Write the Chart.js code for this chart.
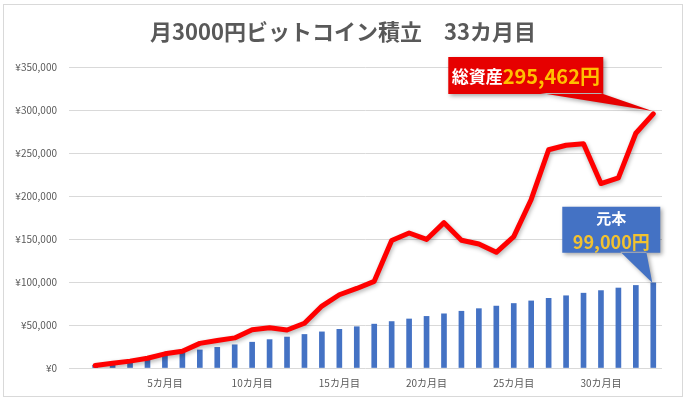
<!DOCTYPE html>
<html>
<head>
<meta charset="utf-8">
<script src="https://cdn.jsdelivr.net/npm/chart.js"></script>
<style>
    body { margin: 0; background: #fff; }
    #chartBox { width: 686px; height: 399px; }
</style>
</head>
<body>
<div id="chartBox"><canvas id="myChart"></canvas></div>
<script>
const CHART_TITLE = '月3000円ビットコイン積立　33カ月目';

// month 0 is an empty slot, like in the original sheet
const MONTH_LABELS = [
    '', '1カ月目', '2カ月目', '3カ月目', '4カ月目', '5カ月目', '6カ月目', '7カ月目', '8カ月目',
    '9カ月目', '10カ月目', '11カ月目', '12カ月目', '13カ月目', '14カ月目', '15カ月目', '16カ月目',
    '17カ月目', '18カ月目', '19カ月目', '20カ月目', '21カ月目', '22カ月目', '23カ月目', '24カ月目',
    '25カ月目', '26カ月目', '27カ月目', '28カ月目', '29カ月目', '30カ月目', '31カ月目', '32カ月目',
    '33カ月目'
];

const PRINCIPAL = [
    null, 3000, 6000, 9000, 12000, 15000, 18000, 21000, 24000, 27000, 30000, 33000,
    36000, 39000, 42000, 45000, 48000, 51000, 54000, 57000, 60000, 63000, 66000,
    69000, 72000, 75000, 78000, 81000, 84000, 87000, 90000, 93000, 96000, 99000
];

const TOTAL_ASSETS = [
    null, 3000, 5500, 8000, 11300, 16500, 19500, 28600, 32000, 35000, 44500, 46700,
    44200, 52000, 72000, 85200, 92500, 100800, 148200, 157000, 149500, 169000, 148600,
    144200, 134500, 152800, 196000, 253800, 259000, 260800, 214500, 221000, 273000, 295462
];

const Y_MAX = 350000;
const Y_STEP = 50000;
const LABEL_EVERY = 5;

const TOTAL_CAPTION = '総資産';
const TOTAL_VALUE_TEXT = '295,462円';
const PRINCIPAL_CAPTION = '元本';
const PRINCIPAL_VALUE_TEXT = '99,000円';

const FONT_JP = '"Noto Sans CJK JP", "Noto Sans", sans-serif';
const GRID_COLOR = '#d9d9d9';
const TEXT_COLOR = '#595959';

function drawCallout(ctx, box, baseA, baseB, tip, fill) {
    ctx.save();
    ctx.shadowColor = 'rgba(0, 0, 0, 0.35)';
    ctx.shadowBlur = 4;
    ctx.shadowOffsetX = 2;
    ctx.shadowOffsetY = 2;
    ctx.fillStyle = fill;
    ctx.beginPath();
    ctx.rect(box.x, box.y, box.w, box.h);
    ctx.moveTo(baseA, box.y + box.h - 1);
    ctx.lineTo(tip.x, tip.y);
    ctx.lineTo(baseB, box.y + box.h - 1);
    ctx.closePath();
    ctx.fill();
    ctx.restore();
}

// title, outer frame and the two callouts
const decorations = {
    id: 'decorations',
    beforeDraw(chart) {
        let ctx = chart.ctx;
        ctx.save();
        ctx.fillStyle = '#fff';
        ctx.fillRect(0, 0, chart.width, chart.height);
        ctx.strokeStyle = GRID_COLOR;
        ctx.lineWidth = 1;
        ctx.strokeRect(3.5, 4.5, chart.width - 7, chart.height - 7);
        ctx.restore();
    },
    beforeDatasetDraw(chart, args) {
        if (args.meta.type === 'line') {
            chart.ctx.save();
            chart.ctx.shadowColor = 'rgba(0, 0, 0, 0.3)';
            chart.ctx.shadowBlur = 4;
            chart.ctx.shadowOffsetX = 1;
            chart.ctx.shadowOffsetY = 2;
        }
    },
    afterDatasetDraw(chart, args) {
        if (args.meta.type === 'line') {
            chart.ctx.restore();
        }
    },
    afterDraw(chart) {
        let ctx = chart.ctx;
        let last = MONTH_LABELS.length - 1;

        ctx.save();
        ctx.fillStyle = TEXT_COLOR;
        ctx.font = 'bold 22px ' + FONT_JP;
        ctx.textAlign = 'center';
        ctx.textBaseline = 'middle';
        ctx.fillText(CHART_TITLE, chart.width / 2, 32);
        ctx.restore();

        // red callout -> end of the total line
        let p = chart.getDatasetMeta(0).data[last];
        let redBox = { x: p.x - 205, y: p.y - 57, w: 155, h: 37 };
        drawCallout(ctx, redBox, p.x - 113, p.x - 53, { x: p.x - 1, y: p.y - 3 }, '#e60000');

        ctx.save();
        ctx.textBaseline = 'middle';
        ctx.textAlign = 'left';
        ctx.font = 'bold 17px ' + FONT_JP;
        let capW = ctx.measureText(TOTAL_CAPTION).width;
        ctx.font = 'bold 20px ' + FONT_JP;
        let valW = ctx.measureText(TOTAL_VALUE_TEXT).width;
        let tx = redBox.x + (redBox.w - capW - valW) / 2;
        let ty = redBox.y + 20;
        ctx.fillStyle = '#ffffff';
        ctx.font = 'bold 17px ' + FONT_JP;
        ctx.fillText(TOTAL_CAPTION, tx, ty);
        ctx.fillStyle = '#ffc000';
        ctx.font = 'bold 20px ' + FONT_JP;
        ctx.fillText(TOTAL_VALUE_TEXT, tx + capW, ty);
        ctx.restore();

        // blue callout -> top of the last bar
        let b = chart.getDatasetMeta(1).data[last];
        let blueBox = { x: b.x - 91, y: b.y - 76, w: 98, h: 46 };
        drawCallout(ctx, blueBox, b.x - 33, b.x - 7, { x: b.x - 1, y: b.y }, '#4472c4');

        ctx.save();
        ctx.textAlign = 'center';
        ctx.textBaseline = 'middle';
        ctx.fillStyle = '#ffffff';
        ctx.font = 'bold 15px ' + FONT_JP;
        ctx.fillText(PRINCIPAL_CAPTION, blueBox.x + blueBox.w / 2, blueBox.y + 11);
        ctx.fillStyle = '#f2c230';
        ctx.font = 'bold 18px ' + FONT_JP;
        ctx.fillText(PRINCIPAL_VALUE_TEXT, blueBox.x + blueBox.w / 2, blueBox.y + 35);
        ctx.restore();
    }
};

function renderAssetChart() {
    const ctx = document.getElementById('myChart');

    new Chart(ctx, {
        type: 'bar',
        data: {
            labels: MONTH_LABELS,
            datasets: [{
                type: 'line',
                label: '総資産',
                data: TOTAL_ASSETS,
                borderColor: '#ff0000',
                borderWidth: 5,
                borderJoinStyle: 'round',
                borderCapStyle: 'round',
                pointRadius: 0,
                tension: 0,
                order: 0
            }, {
                label: '元本',
                data: PRINCIPAL,
                backgroundColor: '#4472c4',
                barThickness: 5,
                order: 1
            }]
        },
        options: {
            responsive: true,
            maintainAspectRatio: false,
            animation: false,
            layout: {
                padding: { top: 67, left: 3, right: 24, bottom: 10 }
            },
            plugins: {
                legend: { display: false },
                tooltip: { enabled: false },
                title: { display: false }
            },
            scales: {
                x: {
                    grid: { display: false, drawTicks: false },
                    border: { display: false },
                    ticks: {
                        autoSkip: false,
                        maxRotation: 0,
                        padding: 9,
                        color: TEXT_COLOR,
                        font: { family: FONT_JP, size: 10 },
                        callback: (value, index) => (index > 0 && index % LABEL_EVERY === 0) ? MONTH_LABELS[index] : ''
                    },
                    afterFit: (scale) => { scale.height = 21; }
                },
                y: {
                    min: 0,
                    max: Y_MAX,
                    grid: { color: GRID_COLOR, lineWidth: 1, drawTicks: false },
                    border: { display: false },
                    ticks: {
                        stepSize: Y_STEP,
                        padding: 12,
                        color: TEXT_COLOR,
                        font: { family: FONT_JP, size: 10 },
                        callback: (value) => '¥' + value.toLocaleString('en-US')
                    },
                    afterFit: (scale) => { scale.width = 66; }
                }
            }
        },
        plugins: [decorations]
    });
}

renderAssetChart();
</script>
</body>
</html>
